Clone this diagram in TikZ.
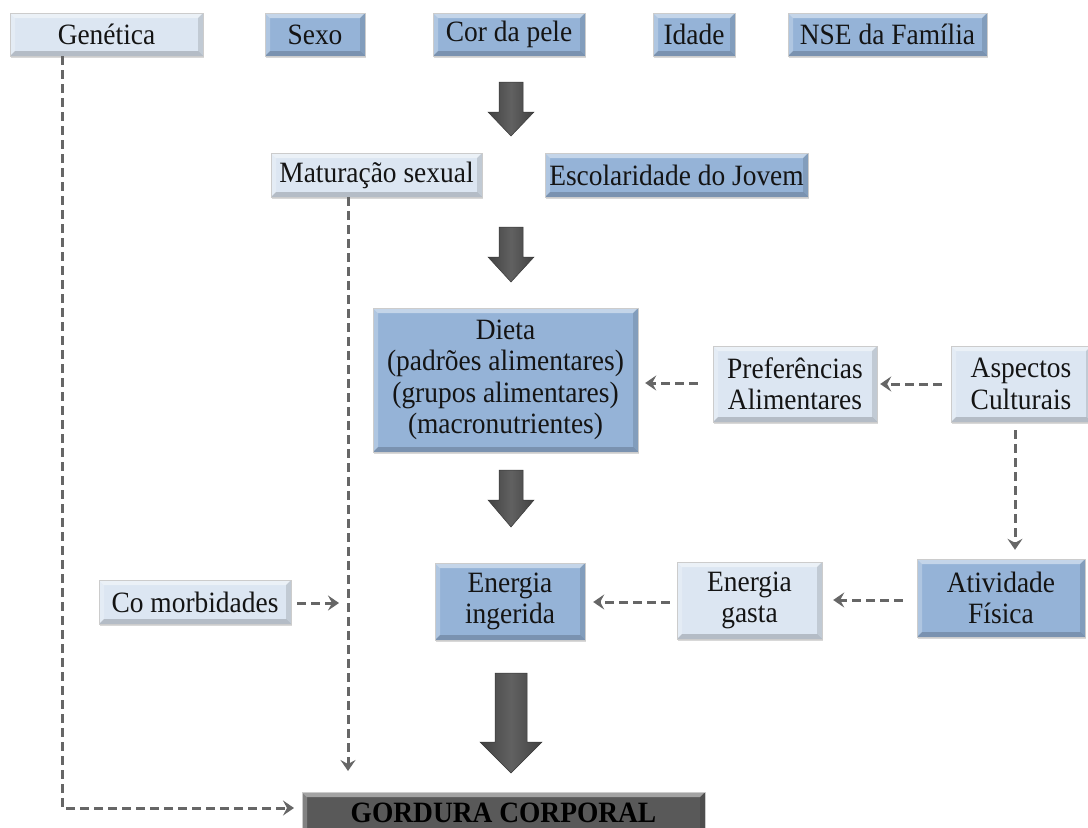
\documentclass[tikz,border=0pt]{standalone}
\usepackage{fontspec}
\setmainfont{Liberation Serif}[FakeStretch=0.93]
\usetikzlibrary{arrows.meta,shadows}

\definecolor{boxblue}{HTML}{95B3D7}
\definecolor{boxlight}{HTML}{DCE6F2}
\definecolor{boxdark}{HTML}{595959}
\definecolor{dashgray}{HTML}{666666}
\definecolor{txt}{HTML}{141414}

\tikzset{
  bevel/.style={path picture={
    \fill[white,opacity=.45]
      (path picture bounding box.north west) -- (path picture bounding box.north east)
      -- ([shift={(-5pt,-5pt)}]path picture bounding box.north east)
      -- ([shift={(5pt,-5pt)}]path picture bounding box.north west) -- cycle;
    \fill[white,opacity=.25]
      (path picture bounding box.north west) -- ([shift={(5pt,-5pt)}]path picture bounding box.north west)
      -- ([shift={(5pt,5pt)}]path picture bounding box.south west)
      -- (path picture bounding box.south west) -- cycle;
    \fill[black,opacity=.12]
      (path picture bounding box.north east) -- ([shift={(-5pt,-5pt)}]path picture bounding box.north east)
      -- ([shift={(-5pt,5pt)}]path picture bounding box.south east)
      -- (path picture bounding box.south east) -- cycle;
    \fill[black,opacity=.18]
      (path picture bounding box.south west) -- ([shift={(5pt,5pt)}]path picture bounding box.south west)
      -- ([shift={(-5pt,5pt)}]path picture bounding box.south east)
      -- (path picture bounding box.south east) -- cycle;
  }},
  factor/.style={draw=black!20, line width=0.4pt, inner sep=0pt, align=center,
    text=txt, font=\fontsize{29.5}{31.5}\selectfont,
    drop shadow={shadow xshift=1pt, shadow yshift=-2pt, opacity=.3}, bevel},
  bluebox/.style={factor, fill=boxblue},
  lightbox/.style={factor, fill=boxlight},
  outcome/.style={factor, fill=boxdark, text=black, font=\fontsize{29.5}{31.5}\selectfont\bfseries},
  dasharrow/.style={draw=dashgray, line width=3pt, dash pattern=on 9pt off 5pt,
    -{Stealth[length=11pt,width=15pt,inset=4pt]}},
  bigarrow/.style={left color=black!74, right color=black!74, middle color=black!62,
    draw=black!78, line width=0.5pt}
}

% block arrow pointing down: centre x, top, head base, tip, shaft half width, head half width
\newcommand{\downblock}[6]{%
  \path[bigarrow] (#1-#5,#2) -- (#1+#5,#2) -- (#1+#5,#3) -- (#1+#6,#3)
    -- (#1,#4) -- (#1-#6,#3) -- (#1-#5,#3) -- cycle;}

\begin{document}
\begin{tikzpicture}[x=1pt,y=-1pt]
\useasboundingbox (0,0) rectangle (1088,828);
\fill[white] (0,0) rectangle (1088,828);
\clip (0,0) rectangle (1088,828);

% first row of determinants
\node[lightbox, minimum width=193, minimum height=43] (gen)   at (106.5,34.5) {Genética};
\node[bluebox,  minimum width=100, minimum height=43] (sexo)  at (315,34.5)   {Sexo};
\node[bluebox,  minimum width=152, minimum height=43] (cor)   at (509,34.5)   {Cor da pele};
\node[bluebox,  minimum width=82,  minimum height=43] (idade) at (694,34.5)   {Idade};
\node[bluebox,  minimum width=199, minimum height=43] (nse)   at (887.5,34.5) {NSE da Família};

% second row
\node[lightbox, minimum width=211, minimum height=44] (mat) at (376.5,175) {Maturação sexual};
\node[bluebox,  minimum width=263, minimum height=44] (esc) at (676.5,175) {Escolaridade do Jovem};

% diet and its influences
\node[bluebox,  minimum width=265, minimum height=144] (dieta) at (505.5,380)
  {Dieta\\(padrões alimentares)\\(grupos alimentares)\\(macronutrientes)};
\node[lightbox, minimum width=164, minimum height=76] (pref) at (795,384) {Preferências\\Alimentares};
\node[lightbox, minimum width=140, minimum height=76] (asp)  at (1021,384) {Aspectos\\Culturais};

% energy balance
\node[lightbox, minimum width=192, minimum height=44] (coms) at (195,602) {Co morbidades};
\node[bluebox,  minimum width=150, minimum height=77] (ing)  at (510,601.5) {Energia\\ingerida};
\node[lightbox, minimum width=145, minimum height=77] (gasta) at (749.5,600.5) {Energia\\gasta};
\node[bluebox,  minimum width=168, minimum height=78] (ativ) at (1001,598) {Atividade\\Física};

% outcome
\node[outcome, minimum width=403, minimum height=42] (gord) at (503.5,813) {GORDURA CORPORAL};

% block arrows between the levels
\downblock{511}{82}{112}{136}{12}{23}
\downblock{511}{227}{257}{282}{12}{23}
\downblock{511}{470}{500}{527}{12}{23}
\downblock{511}{673}{742}{773}{16}{31}

% dashed influences
\coordinate (gcorner) at (62,808);
\coordinate (gtip) at (294,808);
\coordinate (mtip) at (348,771);
\coordinate (ctip) at (339,603);
\coordinate (aspx) at (1015,0);

\draw[dasharrow] (gen.south -| gcorner) -- (gcorner) -- (gtip);
\draw[dasharrow] (mat.south -| mtip) -- (mtip);
\draw[dasharrow, shorten <=6pt] (coms.east |- ctip) -- (ctip);
\draw[dasharrow, shorten <=9pt, shorten >=3pt] (asp.west) -- (pref.east);
\draw[dasharrow, shorten <=15pt, shorten >=7pt] (pref.west |- 0,383) -- (dieta.east |- 0,383);
\draw[dasharrow, shorten <=8pt, shorten >=9pt] (asp.south -| aspx) -- (ativ.north -| aspx);
\draw[dasharrow, shorten <=14pt, shorten >=11pt] (ativ.west |- 0,600) -- (gasta.east |- 0,600);
\draw[dasharrow, shorten <=7pt, shorten >=8pt] (gasta.west |- 0,602) -- (ing.east |- 0,602);
\end{tikzpicture}
\end{document}
